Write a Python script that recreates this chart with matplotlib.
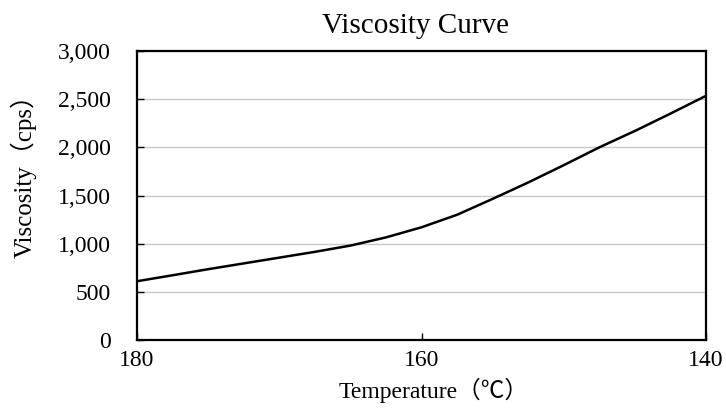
import matplotlib
matplotlib.use("Agg")
import matplotlib.pyplot as plt
from matplotlib.ticker import FuncFormatter

temperature = [180, 177.5, 175, 172.5, 170, 167.5, 165, 162.5, 160, 157.5, 155, 152.5, 150, 147.5, 145, 142.5, 140]
viscosity = [610, 672, 735, 795, 855, 915, 980, 1065, 1170, 1300, 1465, 1635, 1815, 2000, 2170, 2350, 2535]
x_ticks = [180, 160, 140]
y_ticks = [0, 500, 1000, 1500, 2000, 2500, 3000]

title = "Viscosity Curve"
x_label = "Temperature（℃）"
y_label = "Viscosity（cps）"

plt.rcParams['font.family'] = ['Liberation Serif', 'Noto Sans CJK SC', 'DejaVu Sans']

fig = plt.figure(figsize=(7.26, 4.09), dpi=100)
ax = fig.add_axes([137/726, 1 - 340/409, (706 - 137)/726, (340 - 51)/409])

ax.plot(temperature, viscosity, color='black', lw=1.8, solid_capstyle='butt',
        solid_joinstyle='round')

ax.set_xlim(180, 140)
ax.set_ylim(0, 3000)
ax.set_xticks(x_ticks)
ax.set_yticks(y_ticks)
ax.yaxis.set_major_formatter(FuncFormatter(lambda v, p: f"{int(v):,}"))
ax.grid(axis='y', color='#c8c8c8', lw=1.0)
ax.set_axisbelow(True)
ax.tick_params(axis='both', direction='in', length=5, width=1, color='black',
               labelsize=17)
ax.tick_params(axis='y', pad=19)
ax.tick_params(axis='x', pad=7)
for s in ax.spines.values():
    s.set_linewidth(1.6)
    s.set_color('black')

ax.set_title(title, fontsize=21, pad=13, x=(416 - 137) / 569)
ax.set_xlabel(x_label, fontsize=17)
ax.set_ylabel(y_label, fontsize=18)
ax.xaxis.set_label_coords((434 - 137) / 569, (340 - 378) / 289)
ax.yaxis.set_label_coords((37 - 137) / 569, (340 - 170) / 289)

fig.savefig("out.png", dpi=100)
